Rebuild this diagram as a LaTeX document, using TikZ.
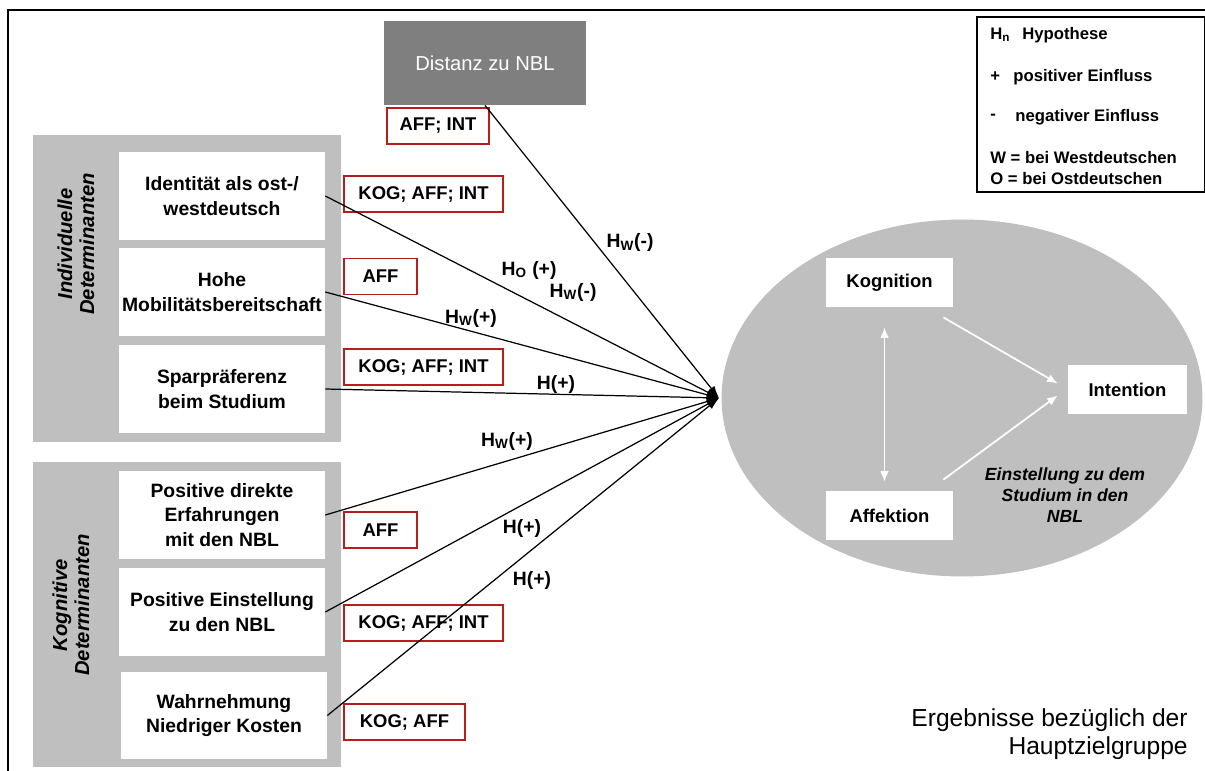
\documentclass[tikz,border=0pt]{standalone}
\usepackage{fontspec}
\setmainfont{Liberation Sans}
\usepackage{tikz}
\usetikzlibrary{arrows.meta}
\usetikzlibrary{positioning,calc,shapes.geometric}
\usepackage{xcolor}
\definecolor{panelgray}{RGB}{191,191,191}
\definecolor{distgray}{RGB}{127,127,127}
\definecolor{boxred}{RGB}{185,28,28}
\tikzset{
    panel/.style={
        fill=panelgray,
        minimum width=6.16cm,
        inner sep=0pt
    },
    vlabel/.style={
        rotate=90,
        align=center,
        inner sep=0pt,
        font=\bfseries\itshape\fontsize{11.5}{12.5}\selectfont
    },
    detbox/.style={
        fill=white,
        minimum width=4.12cm,
        minimum height=1.76cm,
        align=center,
        inner sep=1pt,
        font=\bfseries\fontsize{11}{14}\selectfont
    },
    codebox/.style={
        draw=boxred,
        line width=1pt,
        minimum height=0.72cm,
        inner sep=1pt,
        font=\bfseries\fontsize{10.5}{12}\selectfont
    },
    hyp/.style={
        inner sep=0pt,
        font=\bfseries\fontsize{11}{13}\selectfont
    },
    legtext/.style={
        anchor=west,
        inner sep=0pt,
        font=\bfseries\fontsize{9.5}{11}\selectfont
    },
    compbox/.style={
        fill=white,
        minimum height=0.98cm,
        inner sep=1pt,
        font=\bfseries\fontsize{10.5}{12}\selectfont
    },
    conn/.style={
        draw,
        line width=0.7pt,
        -{Latex[length=7pt, width=4.5pt]}
    },
    whitearrow/.style={
        draw=white,
        line width=1pt,
        -{Latex[length=6pt, width=5pt]}
    }
}

\begin{document}
\begin{tikzpicture}[x=0.02cm, y=-0.02cm]
  \useasboundingbox (0,0) rectangle (1205,771);
  % Frame
  \draw[line width=1pt] (8,771) -- (8,10) -- (1205,10);

  % Distance to the new federal states
  \node[fill=distgray, minimum width=4.04cm, minimum height=1.68cm, text=white,
        font=\fontsize{11.5}{13}\selectfont] (dist) at (485,63) {Distanz zu NBL};
  \node[codebox, minimum width=2.04cm] (c0) at (438,126) {AFF; INT};

  % Individual determinants
  \node[panel, minimum height=6.14cm] (indiv) at (187,288.5) {};
  \node[vlabel] (indivlab) at (76,244) {Individuelle\\Determinanten};
  \node[detbox] (det1) at (222,196) {Identität als ost-/\\westdeutsch};
  \node[detbox] (det2) at (222,292) {Hohe\\Mobilitätsbereitschaft};
  \node[detbox] (det3) at (222,389) {Sparpräferenz\\beim Studium};

  % Cognitive determinants
  \node[panel, minimum height=6.1cm] (cogn) at (187,614.5) {};
  \node[vlabel] (cognlab) at (71,605) {Kognitive\\Determinanten};
  \node[detbox] (det4) at (222,515) {Positive direkte\\Erfahrungen\\mit den NBL};
  \node[detbox] (det5) at (222,612) {Positive Einstellung\\zu den NBL};
  \node[detbox] (det6) at (224,715.5) {Wahrnehmung\\Niedriger Kosten};

  % Attitude components
  \node[codebox, minimum width=3.18cm] (c1) at (423.5,194) {KOG; AFF; INT};
  \node[codebox, minimum width=1.46cm] (c2) at (380.5,276.5) {AFF};
  \node[codebox, minimum width=3.18cm] (c3) at (423.5,367) {KOG; AFF; INT};
  \node[codebox, minimum width=1.46cm] (c4) at (380.5,530) {AFF};
  \node[codebox, minimum width=3.18cm] (c5) at (423.5,623) {KOG; AFF; INT};
  \node[codebox, minimum width=2.42cm] (c6) at (404.5,722) {KOG; AFF};

  % Attitude towards studying in the NBL
  \node[ellipse, fill=panelgray, minimum width=9.62cm, minimum height=7.14cm] (att) at (962,398) {};
  \node[compbox, minimum width=2.54cm] (kog) at (889.5,282.5) {Kognition};
  \node[compbox, minimum width=2.54cm] (aff) at (889.5,515.5) {Affektion};
  \node[compbox, minimum width=2.38cm] (int) at (1127.5,389.5) {Intention};
  \draw[whitearrow, {Latex[length=6pt, width=5pt]}-{Latex[length=6pt, width=5pt]}]
    ($(kog.south)+(-5,20)$) -- ($(aff.north)+(-5,-9)$);
  \draw[whitearrow] ($(kog.south east)+(-10,10)$) -- ($(int.west)+(-10,-6)$);
  \draw[whitearrow] ($(aff.north east)+(-10,-11)$) -- ($(int.west)+(-10,6)$);
  \node[align=center, font=\bfseries\itshape\fontsize{10}{12}\selectfont] (attlab) at (1065,495)
    {Einstellung zu dem\\Studium in den\\NBL};

  % Hypotheses
  \coordinate (conv) at (719,398);
  \draw[conn] (dist.south) -- (conv);
  \foreach \i in {1,...,6}
    \draw[conn] (det\i.east) -- (conv);
  \node[hyp] (h0) at (630,243) {H\textsubscript{W}(-)};
  \node[hyp] (h1a) at (529,270) {H\textsubscript{O} (+)};
  \node[hyp] (h1b) at (573,292) {H\textsubscript{W}(-)};
  \node[hyp] (h2) at (471,318) {H\textsubscript{W}(+)};
  \node[hyp] (h3) at (556,384) {H(+)};
  \node[hyp] (h4) at (507,441) {H\textsubscript{W}(+)};
  \node[hyp] (h5) at (522,528) {H(+)};
  \node[hyp] (h6) at (532,580) {H(+)};

  % Legend
  \node[draw, line width=1pt, minimum width=4.56cm, minimum height=3.5cm] (legend) at (1091,104.5) {};
  \node[legtext] (lhyp) at (990,35) {H\textsubscript{n}};
  \node[legtext] (lhyptxt) at (1022,35) {Hypothese};
  \node[legtext] (lpos) at (990,77) {+};
  \node[legtext] (lpostxt) at (1013,77) {positiver Einfluss};
  \node[legtext] (lneg) at (990,117) {-};
  \node[legtext] (lnegtxt) at (1015,117) {negativer Einfluss};
  \node[legtext] (lwest) at (990,158) {W = bei Westdeutschen};
  \node[legtext] (lost) at (990,179) {O = bei Ostdeutschen};

  % Caption
  \node[anchor=east, align=right, inner sep=0pt, font=\fontsize{14}{16}\selectfont] (result) at (1188,734)
    {Ergebnisse bezüglich der\\Hauptzielgruppe};
\end{tikzpicture}
\end{document}
